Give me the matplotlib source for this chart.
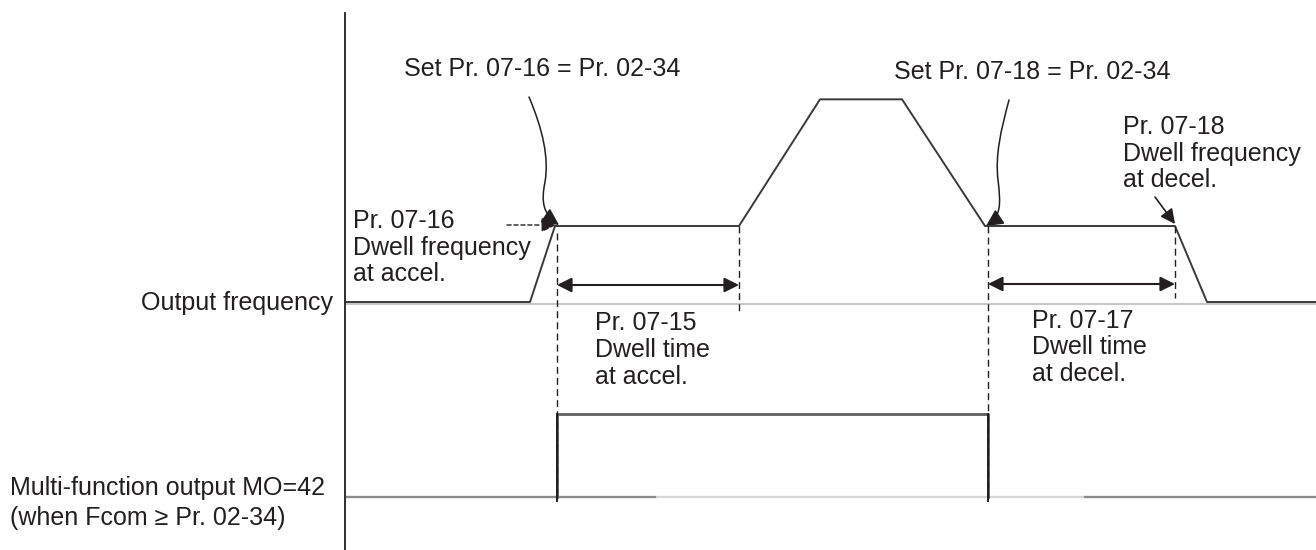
#!/usr/bin/env python3

# Dwell frequency / dwell time timing diagram with MO=42 output

import matplotlib
matplotlib.use("Agg")
import matplotlib.pyplot as plt
from matplotlib.patches import FancyArrowPatch
from matplotlib.path import Path

plt.rcParams["font.family"] = ["Liberation Sans", "DejaVu Sans"]

# output frequency waveform (time in arbitrary units, freq in Hz-like units)
time_freq = [0, 185, 210, 394, 475, 557, 640, 830, 862, 971]
freq = [0, 0, 30, 30, 80, 80, 30, 30, 0, 0]

# multi-function output MO=42
time_mo = [0, 212, 212, 643, 643, 971]
mo = [0, 0, 1, 1, 0, 0]
mo_low_dark = [(0, 310), (740, 971)]

dwell_accel = (212, 394)
dwell_decel = (643, 830)
dwell_freq = 30

# vertical layout of the two traces
FREQ_BASE = 248
FREQ_SCALE = 76 / 30
MO_BASE = 53
MO_HIGH = 83

INK = "#231f20"
FS = 18


def fy(v):
    return FREQ_BASE + v * FREQ_SCALE


def text_block(ax, x, y, lines, dy=26.6, **kw):
    for i, s in enumerate(lines):
        ax.text(x, y - i * dy, s, fontsize=FS, color=INK, va="baseline", **kw)


fig = plt.figure(figsize=(13.16, 5.5), dpi=100)
ax = fig.add_axes([345 / 1316, 0, 971 / 1316, 537 / 550])
ax.set_xlim(0, 971)
ax.set_ylim(0, 537)
ax.set_xticks([])
ax.set_yticks([])
for s in ["top", "right", "bottom"]:
    ax.spines[s].set_visible(False)
ax.spines["left"].set_linewidth(1.3)
ax.spines["left"].set_color(INK)

# output frequency trace
ax.plot([0, 971], [FREQ_BASE - 1.5] * 2, color="#c8c8c8", lw=1.5)
ax.plot(time_freq, [fy(v) for v in freq], color="#3a3a3a", lw=1.4)

# MO trace
ax.plot([0, 971], [MO_BASE] * 2, color="#d6d6d6", lw=1.6)
for a, b in mo_low_dark:
    ax.plot([a, b], [MO_BASE] * 2, color="#8a8a8a", lw=1.6)
ax.plot(time_mo[1:5], [MO_BASE + MO_HIGH * v for v in mo[1:5]], color="#5e5e5e", lw=2.0)
for t in (time_mo[1], time_mo[3]):
    ax.plot([t, t], [MO_BASE - 4, MO_BASE + MO_HIGH], color=INK, lw=1.4)

# dashed guide lines
dash = dict(color=INK, lw=1.0, dashes=(5, 3))
ax.plot([dwell_accel[0]] * 2, [fy(dwell_freq) - 7, MO_BASE], **dash)
ax.plot([dwell_accel[1]] * 2, [fy(dwell_freq), FREQ_BASE - 10], **dash)
ax.plot([dwell_decel[0]] * 2, [fy(dwell_freq), MO_BASE], **dash)
ax.plot([dwell_decel[1]] * 2, [fy(dwell_freq), FREQ_BASE + 4], **dash)

# dwell time arrows
arr = dict(arrowstyle="<|-|>", color=INK, lw=1.5, mutation_scale=22,
           shrinkA=0, shrinkB=0)
ax.annotate("", xy=(dwell_accel[1], 265), xytext=(dwell_accel[0], 265), arrowprops=arr)
ax.annotate("", xy=(dwell_decel[1], 266), xytext=(dwell_decel[0], 266), arrowprops=arr)

# curly arrows from the "Set Pr." notes
curl1 = Path([(184, 453), (198, 420), (204, 392), (200, 368),
              (196, 348), (198, 336), (214, 325)],
             [Path.MOVETO] + [Path.CURVE4] * 6)
curl2 = Path([(664, 450), (656, 420), (650, 395), (653, 370),
              (656, 345), (656, 334), (641, 324)],
             [Path.MOVETO] + [Path.CURVE4] * 6)
for p in (curl1, curl2):
    ax.add_patch(FancyArrowPatch(path=p, arrowstyle="-|>", color=INK, lw=1.1,
                                 mutation_scale=26))

# small arrows to the dwell frequency
ax.annotate("", xy=(211, fy(dwell_freq) + 1), xytext=(162, fy(dwell_freq) + 1),
            arrowprops=dict(arrowstyle="-|>", color=INK, lw=1.0, ls=(0, (3, 2)),
                            mutation_scale=22, shrinkA=0, shrinkB=0))
ax.annotate("", xy=(dwell_decel[1], fy(dwell_freq) + 2), xytext=(810, 353),
            arrowprops=dict(arrowstyle="-|>", color=INK, lw=1.2,
                            mutation_scale=22, shrinkA=0, shrinkB=0))

# texts
ax.text(197, 474, "Set Pr. 07-16 = Pr. 02-34", fontsize=FS, color=INK,
        ha="center", va="baseline")
ax.text(687, 471, "Set Pr. 07-18 = Pr. 02-34", fontsize=FS, color=INK,
        ha="center", va="baseline")
text_block(ax, 8, 322, ["Pr. 07-16", "Dwell frequency", "at accel."])
text_block(ax, 250, 219.5, ["Pr. 07-15", "Dwell time", "at accel."])
text_block(ax, 687, 222.5, ["Pr. 07-17", "Dwell time", "at decel."])
text_block(ax, 778, 416, ["Pr. 07-18", "Dwell frequency", "at decel."])

ax.text(-12, 240, "Output frequency", fontsize=FS, color=INK, ha="right",
        va="baseline", clip_on=False)
text_block(ax, -335, 55, ["Multi-function output MO=42",
                          "(when Fcom \u2265 Pr. 02-34)"], dy=30, clip_on=False)

fig.savefig("out.png", dpi=100)
